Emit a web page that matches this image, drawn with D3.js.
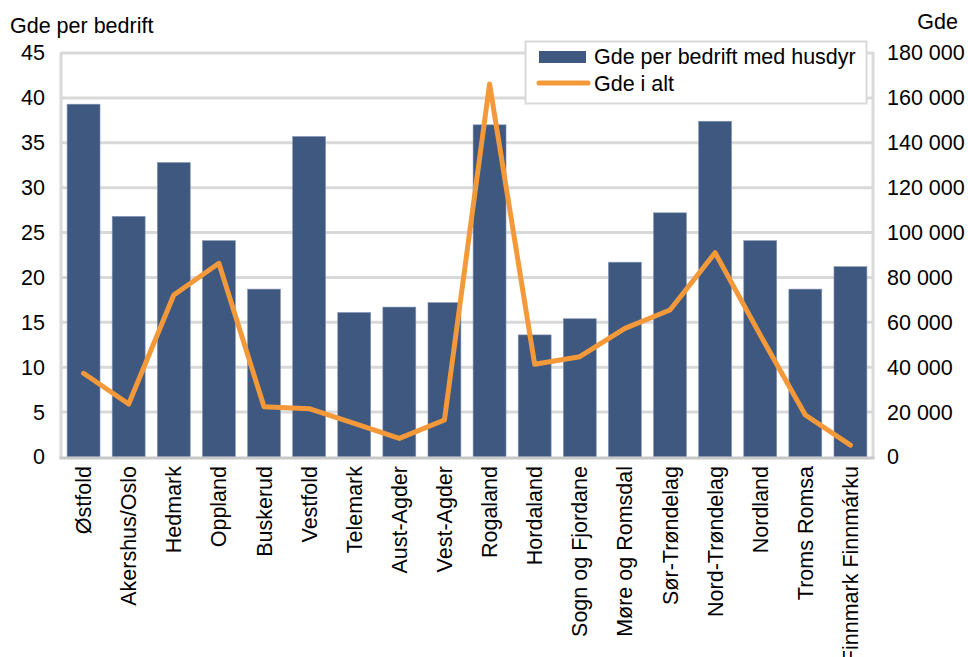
<!DOCTYPE html>
<html><head><meta charset="utf-8">
<script src="https://cdn.jsdelivr.net/npm/d3@7/dist/d3.min.js"></script>
<style>body{margin:0;background:#fff}svg{display:block;font-family:"Liberation Sans",Arial,sans-serif}</style>
</head><body>
<svg id="c" width="968" height="657"></svg>
<script>
const categories = ["Østfold","Akershus/Oslo","Hedmark","Oppland","Buskerud","Vestfold","Telemark","Aust-Agder","Vest-Agder","Rogaland","Hordaland","Sogn og Fjordane","Møre og Romsdal","Sør-Trøndelag","Nord-Trøndelag","Nordland","Troms Romsa","Finnmark Finnmárku"];
const perBedrift = [39.3,26.8,32.8,24.1,18.7,35.7,16.1,16.7,17.2,37.0,13.6,15.4,21.7,27.2,37.4,24.1,18.7,21.2];
const gdeIAlt = [37300,23600,72200,86300,22400,21500,15000,8300,16500,166200,41300,44700,57300,65500,91000,54400,18700,5300];
const leftTicks = [0,5,10,15,20,25,30,35,40,45];
const rightTicks = [0,20000,40000,60000,80000,100000,120000,140000,160000,180000];
const seriesNames = ["Gde per bedrift med husdyr","Gde i alt"];

const FS = 21.5;
const svg = d3.select("#c");
const L = 61, R = 873, T = 53, B = 457;
const x = d3.scaleBand().domain(categories).range([L, R]).paddingInner(0.27).paddingOuter(0.135);
const yL = d3.scaleLinear().domain([0,45]).range([B, T]);
const yR = d3.scaleLinear().domain([0,180000]).range([B, T]);
const grid = "#d9d9d9";
const fmt = v => d3.format(",")(v).replace(/,/g, " ");

// gridlines
svg.append("g").selectAll("line").data(leftTicks.filter(d=>d>0)).join("line")
  .attr("x1", L).attr("x2", R).attr("y1", d=>yL(d)).attr("y2", d=>yL(d))
  .attr("stroke", grid).attr("stroke-width", 3);

// axis lines
svg.append("line").attr("x1", L).attr("x2", L).attr("y1", T-1).attr("y2", B+1).attr("stroke", grid).attr("stroke-width", 3);
svg.append("line").attr("x1", R).attr("x2", R).attr("y1", T-1).attr("y2", B+1).attr("stroke", grid).attr("stroke-width", 3);

// bars
svg.append("g").selectAll("rect").data(categories).join("rect")
  .attr("x", d=>x(d)).attr("width", x.bandwidth())
  .attr("y", (d,i)=>yL(perBedrift[i])).attr("height", (d,i)=>B - yL(perBedrift[i]))
  .attr("fill", "#3e5880").attr("stroke", "#8797b5").attr("stroke-width", 0.6);

// bottom axis line
svg.append("line").attr("x1", L-1.5).attr("x2", R+1.5).attr("y1", B+1).attr("y2", B+1).attr("stroke", "#c8c8c8").attr("stroke-width", 3);

// line
const line = d3.line().x((d,i)=>x(categories[i]) + x.bandwidth()/2).y(d=>yR(d));
svg.append("path").datum(gdeIAlt).attr("d", line).attr("fill","none")
  .attr("stroke", "#f4993a").attr("stroke-width", 5).attr("stroke-linejoin","round").attr("stroke-linecap","round");

// left axis labels
const axL = d3.axisLeft(yL).tickValues(leftTicks).tickSize(0).tickPadding(16);
const gL = svg.append("g").attr("transform", `translate(${L},0)`).call(axL);
gL.select(".domain").remove();
gL.selectAll("text").attr("font-size", FS).attr("fill", "#000").attr("font-family", "Liberation Sans, Arial, sans-serif");

const axR = d3.axisRight(yR).tickValues(rightTicks).tickSize(0).tickPadding(14).tickFormat(fmt);
const gR = svg.append("g").attr("transform", `translate(${R},0)`).call(axR);
gR.select(".domain").remove();
gR.selectAll("text").attr("font-size", FS).attr("fill", "#000").attr("font-family", "Liberation Sans, Arial, sans-serif");

// category labels
const axB = d3.axisBottom(x).tickSize(0).tickPadding(0);
const gB = svg.append("g").attr("transform", `translate(0,${B})`).call(axB);
gB.select(".domain").remove();
gB.selectAll("text").attr("font-size", FS).attr("fill", "#000").attr("font-family", "Liberation Sans, Arial, sans-serif")
  .attr("text-anchor", "end").attr("transform", "rotate(-90)").attr("x", -9).attr("y", 0).attr("dy", "0.35em");

// axis titles
svg.append("text").attr("x", 10).attr("y", 33).attr("font-size", FS).text("Gde per bedrift");
svg.append("text").attr("x", 958).attr("y", 29).attr("font-size", FS).attr("text-anchor","end").text("Gde");

// legend
const lg = svg.append("g");
lg.append("rect").attr("x", 525.5).attr("y", 41.5).attr("width", 341).attr("height", 62)
  .attr("fill", "#fff").attr("stroke", grid).attr("stroke-width", 2);
lg.append("rect").attr("x", 539).attr("y", 51).attr("width", 47).attr("height", 12).attr("fill", "#3e5880");
lg.append("line").attr("x1", 539).attr("x2", 588).attr("y1", 83).attr("y2", 83)
  .attr("stroke", "#f4993a").attr("stroke-width", 5).attr("stroke-linecap","round");
lg.append("text").attr("x", 594).attr("y", 64).attr("font-size", FS).text(seriesNames[0]);
lg.append("text").attr("x", 594).attr("y", 91).attr("font-size", FS).text(seriesNames[1]);
</script>
</body></html>
